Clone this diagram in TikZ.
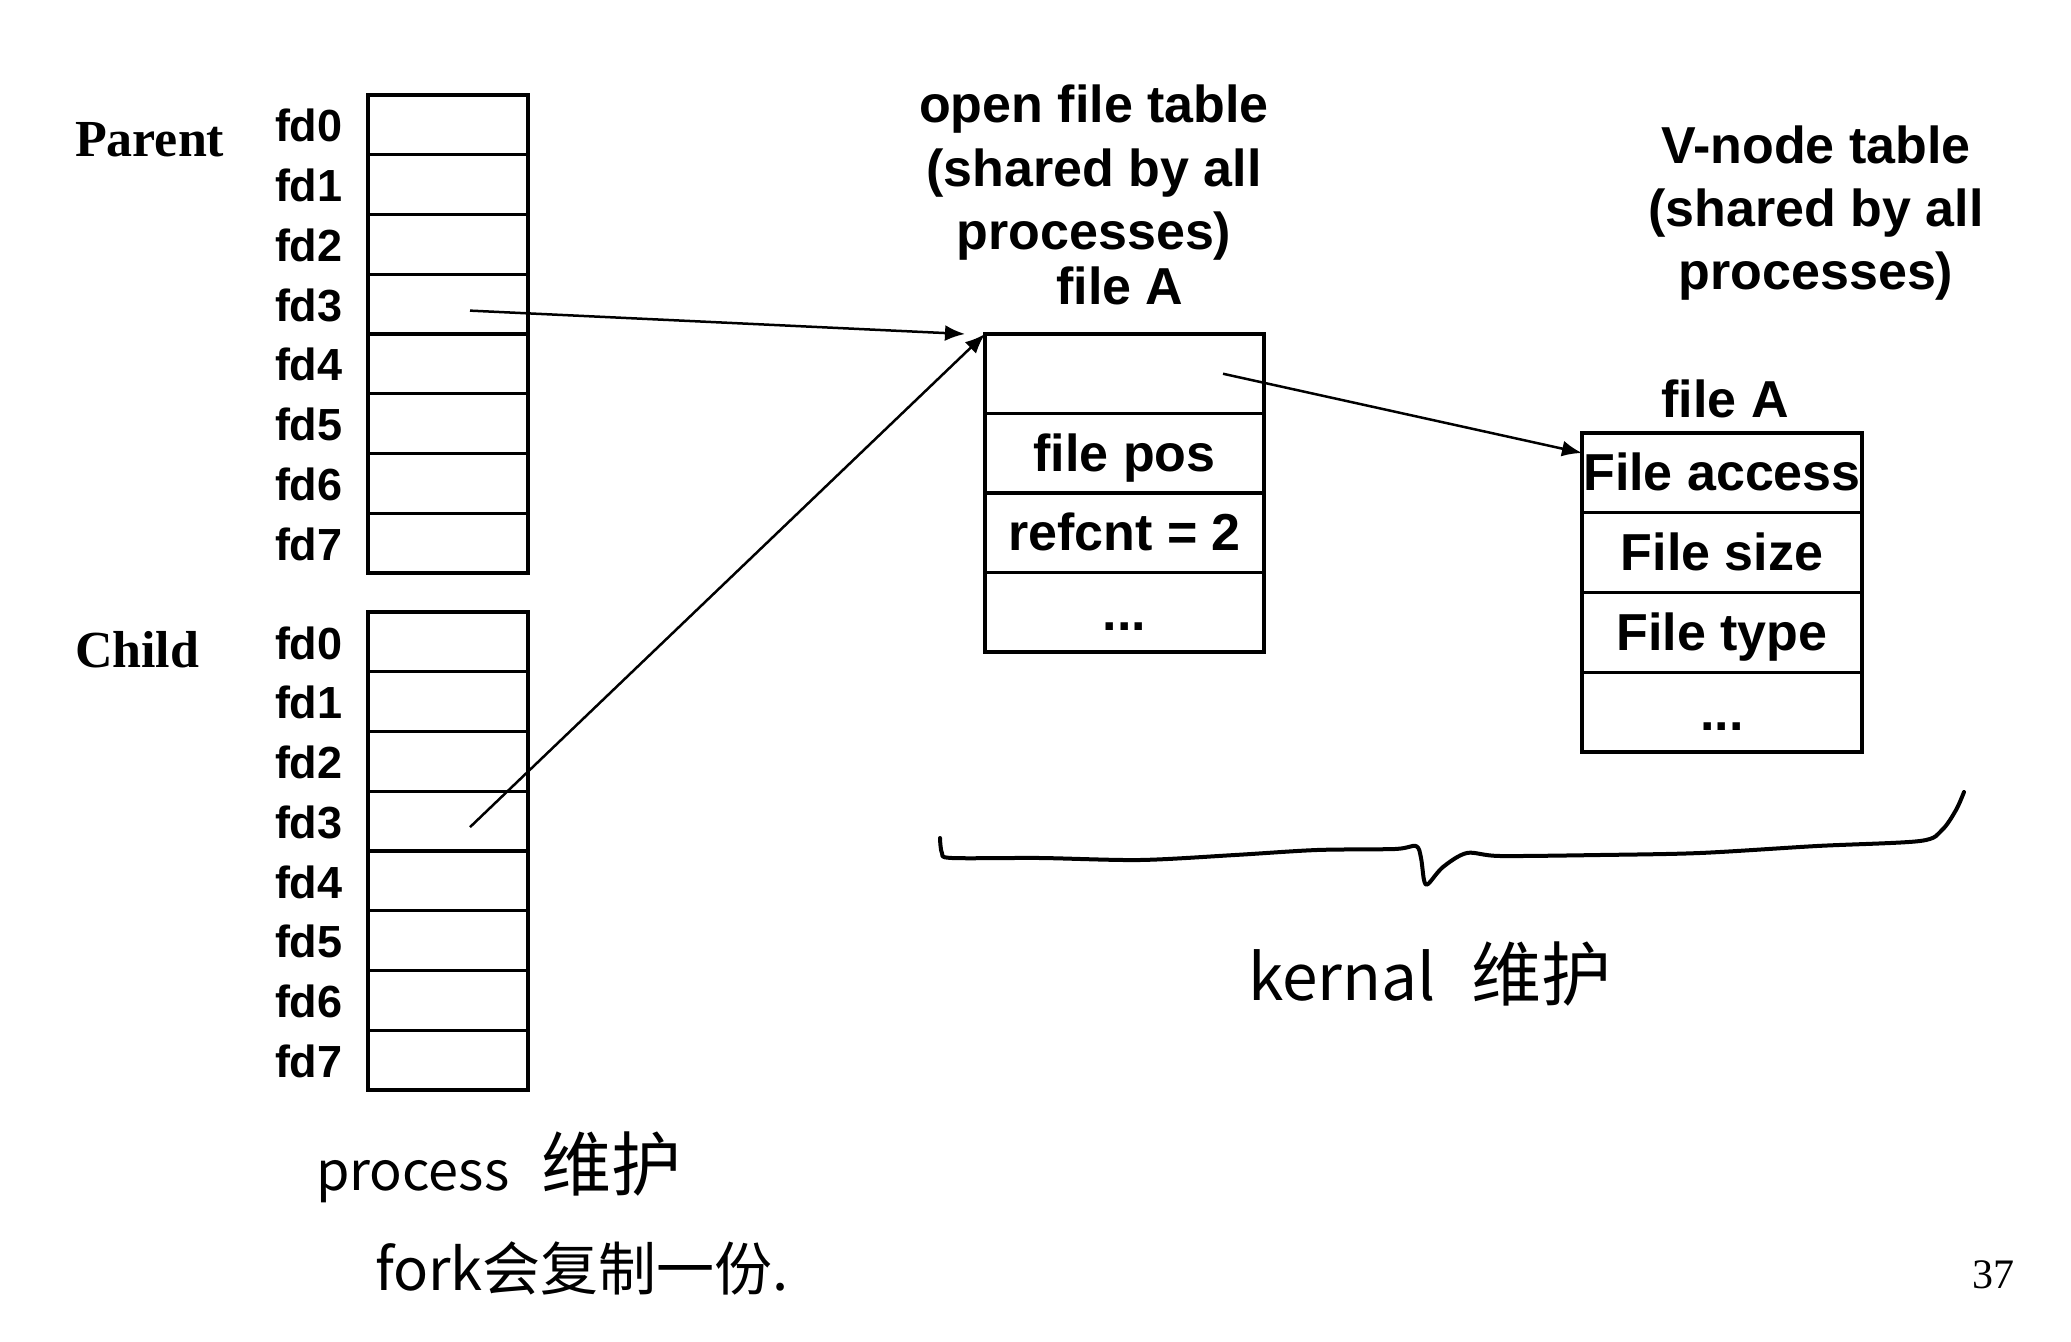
\documentclass[tikz,border=0pt]{standalone}
\usepackage{fontspec}
\setmainfont{Liberation Sans}
\newfontfamily\timesfont{Liberation Serif}
\newfontfamily\hand{Noto Sans CJK SC}
\usetikzlibrary{arrows.meta,calc}
\begin{document}
\begin{tikzpicture}[x=0.5pt,y=-0.5pt,
  every node/.style={inner sep=0pt, outer sep=0pt},
  fdcell/.style={draw, line width=1.6pt, anchor=north west, minimum width=80pt, minimum height=29.875pt},
  ofcell/.style={draw, line width=1.6pt, anchor=north west, minimum width=139.5pt, minimum height=39.75pt, text height=18pt, text depth=0pt, font=\bfseries\fontsize{26}{31}\selectfont},
  vncell/.style={ofcell, minimum width=140pt, minimum height=39.875pt},
  fdlab/.style={anchor=base west, font=\bfseries\fontsize{22.5}{27}\selectfont},
  proclab/.style={anchor=base west, font=\timesfont\bfseries\fontsize{26}{31}\selectfont},
  tabtitle/.style={anchor=base, font=\bfseries\fontsize{26}{31}\selectfont},
  ptr/.style={line width=1.25pt, -{Latex[length=10pt,width=8pt]}},
  handnote/.style={anchor=base west, font=\hand},
  kbrace/.style={line width=2pt, line cap=round, line join=round},
]
\fill[white] (0,0) rectangle (2071,1342);
\useasboundingbox (0,0) rectangle (2071,1342);

% process labels
\node[proclab] (parent) at (75,157) {Parent};
\node[proclab] (child) at (75,667) {Child};

% fd tables
\foreach \i in {0,...,7} {
  \node[fdcell] (p\i) at (368,{95+59.75*\i}) {};
  \node[fdlab] (pl\i) at (275,{142+59.75*\i}) {fd\i};
  \node[fdcell] (c\i) at (368,{612+59.75*\i}) {};
  \node[fdlab] (cl\i) at (275,{659+59.75*\i}) {fd\i};
}

% open file table
\node[tabtitle] (ot1) at (1094,123) {open file table};
\node[tabtitle] (ot2) at (1094,187) {(shared by all};
\node[tabtitle] (ot3) at (1094,250) {processes)};
\node[tabtitle] (ofa) at (1120,305) {file A};
\node[ofcell] (o1) at (985,334) {};
\node[ofcell] (o2) at (985,413.5) {file pos};
\node[ofcell] (o3) at (985,493) {refcnt = 2};
\node[ofcell] (o4) at (985,572.5) {...};

% v-node table
\node[tabtitle] (vt1) at (1816,164) {V-node table};
\node[tabtitle] (vt2) at (1816,227) {(shared by all};
\node[tabtitle] (vt3) at (1816,290) {processes)};
\node[tabtitle] (vfa) at (1725,417) {file A};
\node[vncell] (v1) at (1582,433) {File access};
\node[vncell] (v2) at (1582,512.75) {File size};
\node[vncell] (v3) at (1582,592.5) {File type};
\node[vncell] (v4) at (1582,672.25) {...};

% pointers
\coordinate (ps) at ($(p3.center)+(22,6.5)$);
\coordinate (cs) at ($(c3.center)+(22,6)$);
\coordinate (os) at ($(o1.center)+(98.5,0)$);
\coordinate (pe) at ($(o1.north west)+(-20,0)$);
\coordinate (ve) at ($(v1.north west)+(0,20)$);
\draw[ptr] (ps) -- (pe);
\draw[ptr] (cs) -- (o1.north west);
\draw[ptr] (os) -- (ve);

% hand-drawn brace
\draw[kbrace] plot[smooth, tension=0.5] coordinates {
  (940,838) (942,853) (952,858) (1040,858) (1140,860) (1235,855) (1317,850)
  (1395,849) (1416,846) (1421,858) (1424,880) (1428,884) (1443,867) (1467,853)
  (1500,856) (1600,855) (1700,853) (1817,846) (1920,841) (1942,830) (1956,810) (1964,792)};

% handwritten notes
\node[handnote] (h1) at (316,1190) {\fontsize{27}{32}\selectfont process\hspace{16pt}\fontsize{35}{40}\selectfont 维护};
\node[handnote] (h2) at (375,1290) {\fontsize{29}{34}\selectfont fork会复制一份.};
\node[handnote] (h3) at (1248,1000) {\fontsize{32}{38}\selectfont kernal\hspace{18pt}\fontsize{35}{40}\selectfont 维护};

% page number
\node[anchor=base west, font=\timesfont\fontsize{21}{25}\selectfont] (pg) at (1972,1288) {37};
\end{tikzpicture}
\end{document}
